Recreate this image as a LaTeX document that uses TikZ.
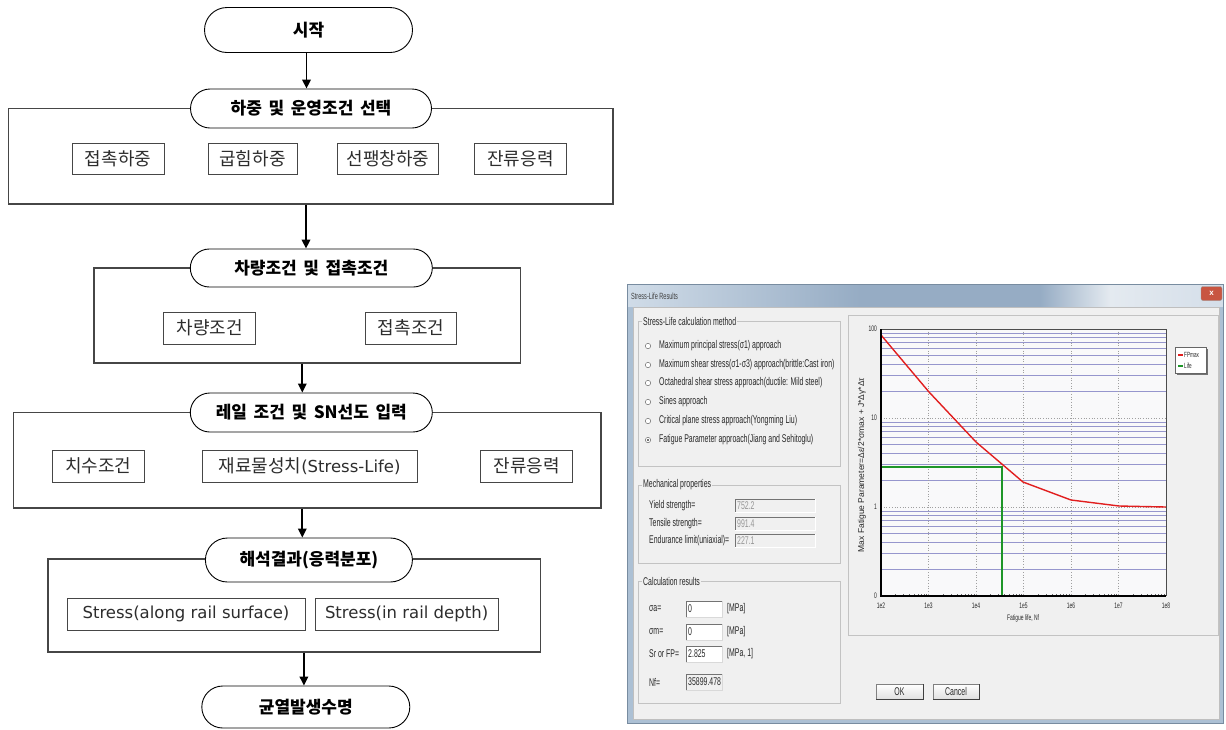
\documentclass[tikz,border=0pt]{standalone}
\usepackage{fontspec}
\usepackage{graphicx}
\usetikzlibrary{arrows.meta,shapes.misc,calc}
\newfontfamily\kr[WordSpace=1.7]{Noto Sans CJK KR}
\newfontfamily\lat{DejaVu Sans}
\newfontfamily\ui[FakeStretch=0.62]{Liberation Sans}
\newfontfamily\uin{Liberation Sans}

\definecolor{boxline}{RGB}{70,70,70}
\definecolor{boxtext}{RGB}{45,45,45}
\definecolor{winbg}{RGB}{240,240,240}
\definecolor{tbA}{RGB}{208,220,232}
\definecolor{tbB}{RGB}{150,172,196}
\definecolor{tbC}{RGB}{228,234,240}
\definecolor{tbD}{RGB}{212,222,233}
\definecolor{winedge}{RGB}{120,140,160}
\definecolor{winstrip}{RGB}{172,192,212}
\definecolor{closered}{RGB}{200,85,65}
\definecolor{etchline}{RGB}{195,195,195}
\definecolor{uitext}{RGB}{40,40,40}
\definecolor{dimtext}{RGB}{150,150,150}
\definecolor{minorgrid}{RGB}{150,150,205}
\definecolor{dotgrid}{RGB}{160,160,160}
\definecolor{plotbg}{RGB}{249,249,250}
\definecolor{fpred}{RGB}{225,30,30}
\definecolor{lifegreen}{RGB}{30,150,40}

\tikzset{
  stad/.style={rounded rectangle, draw=black, line width=0.9pt, fill=white,
    inner sep=0pt, font=\kr\bfseries\fontsize{17}{20}\selectfont},
  frame/.style={draw=boxline, line width=1.1pt, inner sep=0pt},
  item/.style={draw=boxline, line width=0.9pt, fill=white, inner sep=0pt,
    minimum height=31pt, text=boxtext, font=\kr\fontsize{18}{21}\selectfont},
  flow/.style={line width=1.8pt, -{Triangle[length=9pt,width=8.5pt]}},
  uilabel/.style={anchor=west, inner sep=0pt, text=uitext, font=\ui\fontsize{11.2}{13}\selectfont},
  grouplabel/.style={anchor=west, inner sep=1pt, fill=winbg, text=uitext, font=\ui\fontsize{11.2}{13}\selectfont},
  etch/.style={draw=etchline, line width=0.8pt},
  radio/.style={draw=black!55, fill=white, line width=0.5pt},
  ticklab/.style={inner sep=0pt, text=uitext, font=\ui\fontsize{8}{9}\selectfont},
}

\begin{document}
\begin{tikzpicture}[x=1pt, y=-1pt]
\useasboundingbox[fill=white] (0,0) rectangle (1226,729);

% ---------------- flowchart: outer frames ----------------
\node[frame, minimum width=604.5pt, minimum height=95.5pt] (f1) at (310.75,156.25) {};
\node[frame, minimum width=426.5pt, minimum height=95pt] (f2) at (307.25,315.5) {};
\node[frame, minimum width=587.6pt, minimum height=95.5pt] (f3) at (307.2,460.25) {};
\node[frame, minimum width=492.4pt, minimum height=93pt] (f4) at (294.2,605.5) {};

% ---------------- flowchart: stages ----------------
\node[stad, minimum width=208pt, minimum height=45pt] (s1) at (308.5,30) {시작};
\node[stad, minimum width=241pt, minimum height=39pt] (s2) at (311,108.5) {하중 및 운영조건 선택};
\node[stad, minimum width=242pt, minimum height=38pt] (s3) at (311.3,268) {차량조건 및 접촉조건};
\node[stad, minimum width=242pt, minimum height=39pt] (s4) at (311.3,412.5) {레일 조건 및 SN선도 입력};
\node[stad, minimum width=207pt, minimum height=44pt] (s5) at (308.9,560) {해석결과(응력분포)};
\node[stad, minimum width=208pt, minimum height=42pt] (s6) at (305.8,707) {균열발생수명};

% ---------------- flowchart: inputs ----------------
\node[item, minimum width=92pt] (b11) at (118,159) {접촉하중};
\node[item, minimum width=89pt] (b12) at (252.5,159) {굽힘하중};
\node[item, minimum width=101pt] (b13) at (388,159) {선팽창하중};
\node[item, minimum width=92pt] (b14) at (520.5,159) {잔류응력};

\node[item, minimum width=92pt, minimum height=32pt] (b21) at (209.7,328) {차량조건};
\node[item, minimum width=91pt, minimum height=32pt] (b22) at (411,328) {접촉조건};

\node[item, minimum width=92pt, minimum height=32pt] (b31) at (98.4,466) {치수조건};
\node[item, minimum width=215pt, minimum height=32pt] (b32) at (309.5,466) {재료물성치{\lat\fontsize{16.5}{19}\selectfont (Stress-Life)}};
\node[item, minimum width=92.6pt, minimum height=32pt] (b33) at (526.6,466) {잔류응력};

\node[item, minimum width=238pt, minimum height=32pt, font=\lat\fontsize{16.5}{19}\selectfont] (b41) at (186,614) {Stress(along rail surface)};
\node[item, minimum width=183.3pt, minimum height=32pt, font=\lat\fontsize{16.5}{19}\selectfont] (b42) at (406.6,614) {Stress(in rail depth)};

% ---------------- flowchart: arrows ----------------
\draw[flow] ($(s1.south)+(-2,0)$) -- ($(s1.south |- s2.north)+(-2,0)$);
\draw[flow] ($(s2.center |- f1.south)+(-5,0)$) -- ($(s2.center |- s3.north)+(-5,0)$);
\draw[flow] ($(s3.center |- f2.south)+(-9,0)$) -- ($(s3.center |- s4.north)+(-9,0)$);
\draw[flow] ($(s4.center |- f3.south)+(-9,0)$) -- ($(s4.center |- s5.north)+(-9,0)$);
\draw[flow] ($(s5.center |- f4.south)+(-5,0)$) -- ($(s5.center |- s6.north)+(-5,0)$);

% ---------------- dialog window ----------------
\fill[winbg] (627,284) rectangle (1223,723);
\shade[left color=tbA, right color=tbB] (627,284) rectangle (860,307);
\fill[tbB] (860,284) rectangle (1040,307);
\shade[left color=tbB, right color=tbC] (1040,284) rectangle (1110,307);
\shade[left color=tbC, right color=tbD] (1110,284) rectangle (1223,307);
\fill[winstrip] (627,307) rectangle (633,723);
\fill[winstrip] (627,719) rectangle (1223,723);
\fill[winstrip] (1219,307) rectangle (1223,723);
\draw[winedge, line width=0.6pt] (627,284) rectangle (1223,723);
\draw[black!25, line width=0.5pt] (633,307) rectangle (1219,719);
\node[anchor=west, inner sep=0pt, text=black!75, font=\ui\fontsize{9}{10}\selectfont] (ttl) at (631,296) {Stress-Life Results};
\node[fill=closered, draw=black!40, line width=0.4pt, rounded corners=2pt, minimum width=21pt, minimum height=14pt,
  inner sep=0pt, text=white, font=\uin\bfseries\fontsize{8}{9}\selectfont] (cls) at (1211.5,293.5) {x};

% group: calculation method
\draw[etch] (638,321) rectangle (840,466);
\node[grouplabel] (g1) at (642,321) {Stress-Life calculation method};
\foreach \yy/\txt [count=\n] in {
  346/{Maximum principal stress(σ1) approach},
  365/{Maximum shear stress(σ1-σ3) approach(brittle:Cast iron)},
  383/{Octahedral shear stress approach(ductile: Mild steel)},
  402/{Sines approach},
  421/{Critical plane stress approach(Yongming Liu)},
  440/{Fatigue Parameter approach(Jiang and Sehitoglu)}}{
  \draw[radio] (648,\yy) circle (2.7pt);
  \node[uilabel] (r\n) at (659,\yy) {\txt};
}
\fill[black!75] (648,440) circle (1.2pt);

% group: mechanical properties
\draw[etch] (638,485) rectangle (840,563);
\node[grouplabel] (g2) at (642,485) {Mechanical properties};
\foreach \yy/\lab/\val [count=\n] in {506/Yield strength=/752.2, 524/Tensile strength=/991.4, 541/Endurance limit(uniaxial)=/227.1}{
  \node[uilabel] (m\n) at (649,\yy) {\lab};
  \fill[winbg] (735,\yy-7) rectangle (815,\yy+6);
  \draw[black!55, line width=0.8pt] (735,\yy+6) -- (735,\yy-7) -- (815,\yy-7);
  \draw[white, line width=0.8pt] (735,\yy+6) -- (815,\yy+6) -- (815,\yy-7);
  \node[uilabel, text=dimtext] (mv\n) at (737,\yy) {\val};
}

% group: calculation results
\draw[etch] (638,581) rectangle (840,703);
\node[grouplabel] (g3) at (642,581) {Calculation results};
\foreach \yy/\lab/\val/\unit/\bg [count=\n] in {
  609/{σa=}/0/[MPa]/white,
  632/{σm=}/0/[MPa]/white,
  654/{Sr or FP=}/2.825/{[MPa, 1]}/white,
  682/{Nf=}/35899.478//winbg}{
  \node[uilabel] (c\n) at (649,\yy) {\lab};
  \fill[\bg] (686,\yy-8) rectangle (722,\yy+8);
  \draw[black!55, line width=0.8pt] (686,\yy+8) -- (686,\yy-8) -- (722,\yy-8);
  \draw[black!15, line width=0.8pt] (686,\yy+8) -- (722,\yy+8) -- (722,\yy-8);
  \node[uilabel] (cv\n) at (688,\yy) {\val};
  \node[uilabel] (cu\n) at (727,\yy) {\unit};
}

% chart panel and buttons
\draw[etch] (848,315) rectangle (1218,635);
\foreach \xa/\xb/\lab [count=\n] in {876/923/OK, 933/979/Cancel}{
  \shade[top color=white, bottom color=black!12] (\xa,684) rectangle (\xb,699);
  \draw[black!50, line width=0.6pt] (\xa,684) rectangle (\xb,699);
  \draw[black!75, line width=0.8pt] (\xa,699) -- (\xb,699) -- (\xb,684);
  \node[inner sep=0pt, text=uitext, font=\ui\fontsize{11.2}{13}\selectfont] (btn\n) at ({(\xa+\xb)/2},691.5) {\lab};
}

% ---------------- fatigue chart ----------------
\fill[plotbg] (881,329) rectangle (1166,596);
\foreach \d in {0,1,2}{
  \foreach \k in {2,...,9}{
    \draw[minorgrid, line width=0.9pt] (881,{596-89*\d-89*log10(\k)}) -- (1166,{596-89*\d-89*log10(\k)});
  }
}
\foreach \yy in {507,418}{
  \draw[dotgrid, line width=0.7pt, dotted] (881,\yy) -- (1166,\yy);
}
\foreach \i in {1,...,5}{
  \draw[dotgrid, line width=0.7pt, dotted] ({881+47.5*\i},329) -- ({881+47.5*\i},596);
}
\foreach \i in {0,...,5}{
  \foreach \k in {2,...,9}{
    \draw[black!60, line width=0.5pt] ({881+47.5*\i+47.5*log10(\k)},596) -- ++(0,-2.5);
  }
}
\draw[lifegreen, line width=1.3pt] (881,467) -- (1002,467) -- (1002,596);
\draw[fpred, line width=1.4pt, line join=round] (881,335) -- (929,392) -- (976,442) -- (1023,482) -- (1071,500) -- (1119,506) -- (1166,507);
\draw[black!70, line width=0.8pt] (881,329) -- (1166,329) -- (1166,596);
\draw[black, line width=1.4pt] (881,329) -- (881,596) -- (1166,596);

\foreach \yy/\lab [count=\n] in {329/100, 418/10, 507/1, 596/0}{
  \node[ticklab, anchor=east] (yl\n) at (877,\yy) {\lab};
}
\foreach \e [count=\n] in {2,...,8}{
  \node[ticklab] (xl\n) at ({881+47.5*(\e-2)},606) {1e\e};
}
\node[ticklab] (xt) at (1023,618) {Fatigue life, Nf};
\node[inner sep=0pt, rotate=90, text=uitext, font=\uin\fontsize{8.5}{9.5}\selectfont] (yt) at (862,465)
  {Max Fatigue Parameter=Δε/2*σmax + J*Δγ*Δτ};

% legend
\fill[black!55] (1177,349) rectangle (1208,375);
\draw[black!60, fill=white, line width=0.6pt] (1175,347) rectangle (1206,373);
\draw[fpred, line width=1.2pt] (1178,355) -- (1183,355);
\node[ticklab, anchor=west, font=\ui\fontsize{7.5}{8.5}\selectfont] (lg1) at (1184,355) {FPmax};
\draw[lifegreen, line width=1.2pt] (1178,366) -- (1183,366);
\node[ticklab, anchor=west, font=\ui\fontsize{7.5}{8.5}\selectfont] (lg2) at (1184,366) {Life};
\end{tikzpicture}
\end{document}
